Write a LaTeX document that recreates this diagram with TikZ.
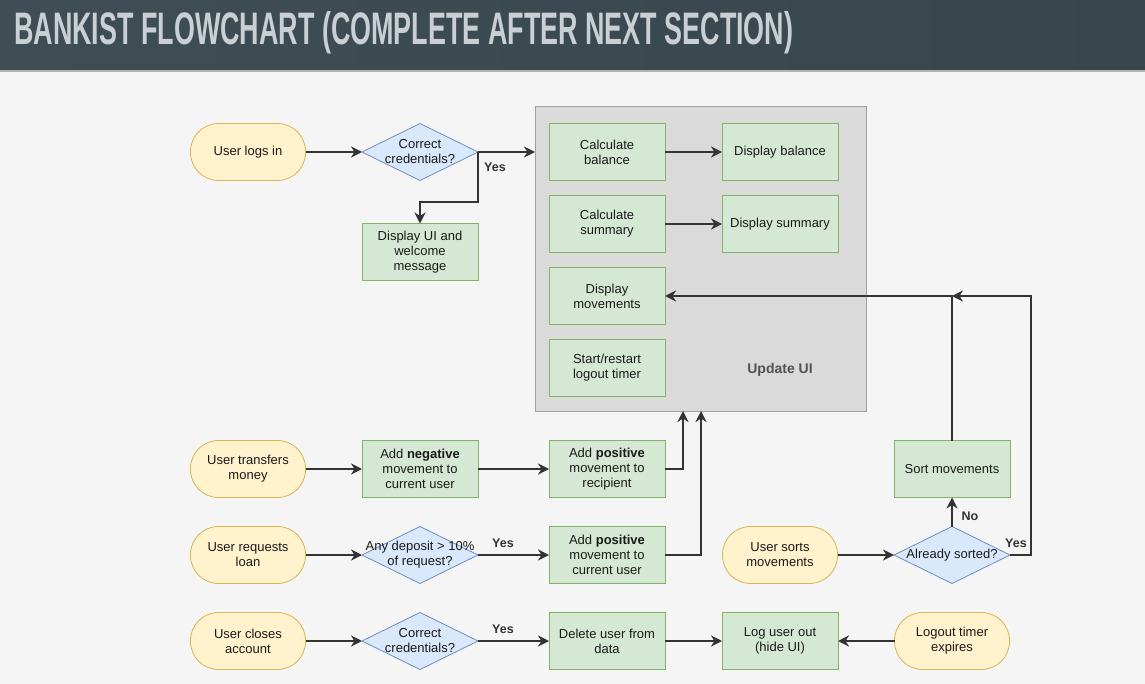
\documentclass[tikz,border=0pt]{standalone}
\usepackage{fontspec}
\setmainfont{Liberation Sans}
\usepackage{graphicx}
\usetikzlibrary{shapes.geometric,arrows.meta,calc}
\definecolor{bgc}{HTML}{F5F5F5}
\definecolor{barA}{HTML}{3F4D55}
\definecolor{barB}{HTML}{37454C}
\definecolor{titlec}{HTML}{C9CFD2}
\definecolor{termf}{HTML}{FFF2CC}
\definecolor{termd}{HTML}{D6B656}
\definecolor{actf}{HTML}{D5E8D4}
\definecolor{actd}{HTML}{82B366}
\definecolor{decf}{HTML}{DAE8FC}
\definecolor{decd}{HTML}{6C8EBF}
\definecolor{uif}{HTML}{DADADA}
\definecolor{uid}{HTML}{A0A0A0}
\definecolor{linec}{HTML}{333333}
\definecolor{txtc}{HTML}{1A1A1A}
\newcommand\dgfont{\fontsize{13}{15}\selectfont}
\begin{document}
\begin{tikzpicture}[x=1pt,y=-1pt,
  every node/.style={text=txtc},
  term/.style={draw=termd, fill=termf, line width=0.8pt, rounded corners=28pt, minimum width=115pt, minimum height=57pt, inner sep=0pt, outer sep=0pt, align=center, font=\dgfont},
  act/.style={draw=actd, fill=actf, line width=0.8pt, minimum width=116pt, minimum height=57pt, inner sep=0pt, outer sep=0pt, align=center, font=\dgfont},
  dec/.style={diamond, draw=decd, fill=decf, line width=0.8pt, minimum width=116pt, minimum height=57pt, inner sep=0pt, outer sep=0pt},
  dectext/.style={align=center, inner sep=0pt, font=\dgfont},
  conn/.style={draw=linec, line width=2.3pt, -{Stealth[length=11pt,width=11pt,inset=3.5pt]}},
  ylab/.style={font=\fontsize{12.5}{14}\selectfont\bfseries, text=linec, inner sep=0pt}]
\useasboundingbox (0,0) rectangle (1145,684);
\fill[bgc] (0,0) rectangle (1145,684);
\shade[left color=barA, right color=barB] (0,0) rectangle (1145,71);
\fill[color=gray!60] (0,70) rectangle (1145,72);
\node[anchor=base west, inner sep=0pt, text=titlec] (title) at (14,45)
  {\resizebox{779pt}{33pt}{\bfseries BANKIST FLOWCHART (COMPLETE AFTER NEXT SECTION)}};

% Update UI container
\node[draw=uid, fill=uif, line width=1pt, minimum width=331pt, minimum height=304pt, inner sep=0pt, outer sep=0pt] (ui) at (700.5,259) {};
\node[font=\fontsize{14}{16}\selectfont\bfseries, text=black!68] (uilabel) at (780,370) {Update UI};

% terminals
\node[term] (login) at (248,152) {User logs in};
\node[term] (transfer) at (248,469) {User transfers\\money};
\node[term] (loan) at (248,555) {User requests\\loan};
\node[term] (close) at (248,641) {User closes\\account};
\node[term] (usort) at (780,555) {User sorts\\movements};
\node[term] (timer) at (952,641) {Logout timer\\expires};

% decisions
\node[dec] (cred1) at (420,152) {};
\node[dectext] (cred1t) at (420,152) {Correct\\credentials?};
\node[dec] (deposit) at (420,555) {};
\node[dectext] (depositt) at (420,555) {Any deposit > 10\%\\of request?};
\node[dec] (cred2) at (420,641) {};
\node[dectext] (cred2t) at (420,641) {Correct\\credentials?};
\node[dec] (sorted) at (952,555) {};
\node[dectext] (sortedt) at (952,555) {Already sorted?};

% actions
\node[act] (dispui) at (420,252) {Display UI and\\welcome\\message};
\node[act] (calcbal) at (607,152) {Calculate\\balance};
\node[act] (dispbal) at (780,152) {Display balance};
\node[act] (calcsum) at (607,224) {Calculate\\summary};
\node[act] (dispsum) at (780,224) {Display summary};
\node[act] (dispmov) at (607,296) {Display\\movements};
\node[act] (timerst) at (607,368) {Start/restart\\logout timer};
\node[act] (addneg) at (420,469) {Add \textbf{negative}\\movement to\\current user};
\node[act] (addposr) at (607,469) {Add \textbf{positive}\\movement to\\recipient};
\node[act] (addposc) at (607,555) {Add \textbf{positive}\\movement to\\current user};
\node[act] (sort) at (952,469) {Sort movements};
\node[act] (delete) at (607,641) {Delete user from\\data};
\node[act] (logout) at (780,641) {Log user out\\(hide UI)};

\coordinate (in1) at (683,411);
\coordinate (in2) at (701,411);

% connectors
\draw[conn] (login) -- (cred1);
\draw[conn] (cred1.east) -- (cred1.east -| ui.west);
\draw[conn] (cred1.east) -- ++(0,50) -| (dispui.north);
\node[ylab] (yes1) at (495,167) {Yes};
\draw[conn] (calcbal) -- (dispbal);
\draw[conn] (calcsum) -- (dispsum);
\draw[conn] (sort.north) |- (dispmov.east);
\draw[conn] (sorted.east) -- ++(21,0) |- (sort.north |- dispmov.east);
\node[ylab] (yes4) at (1016,543) {Yes};
\draw[conn] (sorted.north) -- (sort.south);
\node[ylab] (no1) at (970,516) {No};
\draw[conn] (usort) -- (sorted);
\draw[conn] (transfer) -- (addneg);
\draw[conn] (addneg) -- (addposr);
\draw[conn] (addposr.east) -| (in1);
\draw[conn] (addposc.east) -| (in2);
\draw[conn] (loan) -- (deposit);
\draw[conn] (deposit) -- (addposc);
\node[ylab] (yes2) at (503,543) {Yes};
\draw[conn] (close) -- (cred2);
\draw[conn] (cred2) -- (delete);
\node[ylab] (yes3) at (503,629) {Yes};
\draw[conn] (delete) -- (logout);
\draw[conn] (timer) -- (logout);
\end{tikzpicture}
\end{document}
